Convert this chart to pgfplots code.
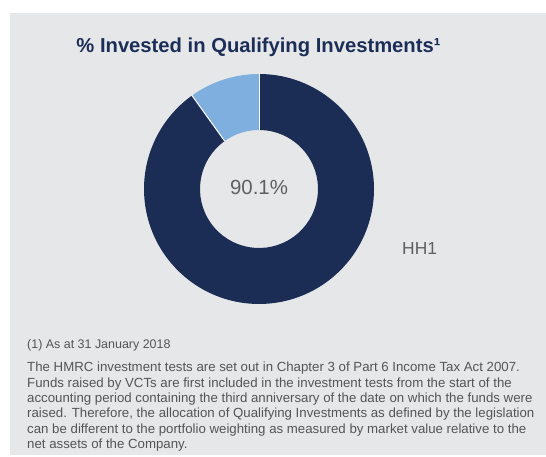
\documentclass[border=0pt]{standalone}
\usepackage{fontspec}
\setmainfont{Liberation Sans}
\usepackage{pgfplots}
\usepackage{pgfplotstable}
\pgfplotsset{compat=1.18}

\definecolor{panelgray}{HTML}{E6E7E8}
\definecolor{navy}{HTML}{1B2D55}
\definecolor{lightblue}{HTML}{7FAFDF}
\definecolor{titlenavy}{HTML}{1C2E58}
\definecolor{valgray}{HTML}{606060}
\definecolor{notegray}{HTML}{555555}

% share of the portfolio in qualifying investments (per cent)
\pgfplotstableread{
label value
HH1   90.1
Other 9.9
}\shares

\begin{document}
\begin{tikzpicture}
\pgfplotstablegetelem{0}{value}\of\shares
\pgfmathsetmacro\qual{\pgfplotsretval}
\pgfmathsetmacro\splitangle{90-3.6*\qual}
\pgfmathsetmacro\splitup{\splitangle+360}
\begin{axis}[
  x=1bp, y=1bp,
  xmin=0, xmax=546, ymin=0, ymax=457,
  hide axis, clip=false
]
% background and panel
\fill[white] (axis cs:0,0) rectangle (axis cs:546,457);
\fill[panelgray] (axis cs:10,2) rectangle (axis cs:546,444);

% donut: qualifying slice (clockwise from 12 o'clock)
\fill[navy] ([shift={(90:115bp)}]axis cs:259,268)
  arc[start angle=90, end angle=\splitangle, radius=115bp]
  -- ([shift={(\splitangle:59bp)}]axis cs:259,268)
  arc[start angle=\splitangle, end angle=90, radius=59bp] -- cycle;
% remaining slice
\fill[lightblue] ([shift={(90:115bp)}]axis cs:259,268)
  arc[start angle=90, end angle=\splitup, radius=115bp]
  -- ([shift={(\splitup:59bp)}]axis cs:259,268)
  arc[start angle=\splitup, end angle=90, radius=59bp] -- cycle;
\draw[white, line width=1bp] ([shift={(90:59bp)}]axis cs:259,268) -- ([shift={(90:115.5bp)}]axis cs:259,268);
\draw[white, line width=1bp] ([shift={(\splitup:59bp)}]axis cs:259,268) -- ([shift={(\splitup:115.5bp)}]axis cs:259,268);

% texts
\node[anchor=base, inner sep=0, text=titlenavy, font=\fontsize{20.3}{24}\selectfont\bfseries]
  at (axis cs:258.5,404) {\% Invested in Qualifying Investments¹};
\node[anchor=base, inner sep=0, text=valgray, font=\fontsize{20.5}{24}\selectfont]
  at (axis cs:259,262) {90.1\%};
\node[anchor=base west, inner sep=0, text=valgray, font=\fontsize{17.5}{21}\selectfont]
  at (axis cs:402,202) {HH1};
\node[anchor=base west, inner sep=0, text=notegray, font=\fontsize{12.5}{15.4}\selectfont]
  at (axis cs:27,108) {(1) As at 31 January 2018};
\node[anchor=north west, inner sep=0, align=left, text=notegray, font=\fontsize{13.3}{15.4}\selectfont]
  at (axis cs:27,95) {The HMRC investment tests are set out in Chapter 3 of Part 6 Income Tax Act 2007.\\
Funds raised by VCTs are first included in the investment tests from the start of the\\
accounting period containing the third anniversary of the date on which the funds were\\
raised. Therefore, the allocation of Qualifying Investments as defined by the legislation\\
can be different to the portfolio weighting as measured by market value relative to the\\
net assets of the Company.};
\end{axis}
\end{tikzpicture}
\end{document}
